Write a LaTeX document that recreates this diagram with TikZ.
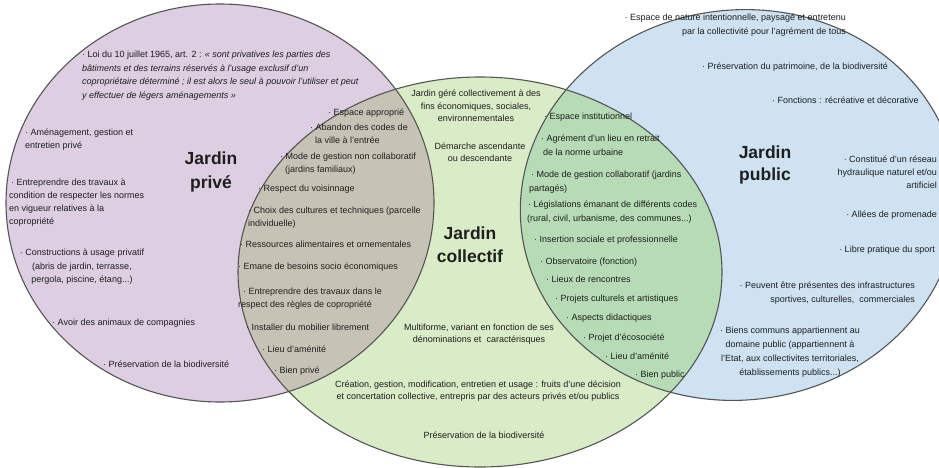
\documentclass[tikz,border=0pt]{standalone}
\usepackage{fontspec}
\setmainfont{Liberation Sans}
\newcommand{\lnstrut}{\rule{0pt}{7pt}}
\definecolor{cPr}{RGB}{221,206,226}
\definecolor{cCo}{RGB}{217,235,199}
\definecolor{cPu}{RGB}{207,226,242}
\definecolor{cGr}{RGB}{198,195,182}
\definecolor{cGB}{RGB}{183,219,183}
\definecolor{cLine}{RGB}{85,85,85}
\definecolor{cTxt}{RGB}{30,30,30}
\begin{document}
\begin{tikzpicture}[x=1pt,y=-1pt,
  txt/.style={inner sep=0pt, font=\fontsize{9}{12.5}\selectfont, text=cTxt},
  tl/.style={txt, anchor=north west, align=left},
  tc/.style={txt, anchor=north, align=center},
  tr/.style={txt, anchor=north east, align=right},
  ttl/.style={inner sep=0pt, anchor=base, font=\fontsize{17.5}{21}\selectfont\bfseries, text=cTxt},
  outl/.style={draw=cLine, line width=1.1pt},
  rPu/.style={rotate around={7:(739,205)}}]
\useasboundingbox (0,0) rectangle (939,468);
\fill[white] (0,0) rectangle (939,468);
% fills
\fill[cPr] (220,203) ellipse [x radius=214, y radius=199];
\fill[cCo] (480,272) ellipse [x radius=242, y radius=195];
\fill[cPu,rPu] (739,205) ellipse [x radius=219, y radius=195];
\begin{scope}
  \clip (480,272) ellipse [x radius=242, y radius=195];
  \fill[cGr] (220,203) ellipse [x radius=214, y radius=199];
  \fill[cGB,rPu] (739,205) ellipse [x radius=219, y radius=195];
\end{scope}
% outlines
\draw[outl] (220,203) ellipse [x radius=214, y radius=199];
\draw[outl] (480,272) ellipse [x radius=242, y radius=195];
\draw[outl,rPu] (739,205) ellipse [x radius=219, y radius=195];

% ---------- Jardin prive ----------
\node[tl] (p1) at (82,50.5) {\lnstrut· Loi du 10 juillet 1965, art. 2 : \textit{« sont privatives les parties des}\\[1pt]
  \textit{bâtiments et des terrains réservés à l'usage exclusif d'un}\\[1pt]
  \textit{copropriétaire déterminé ; il est alors le seul à pouvoir l'utiliser et peut}\\[1pt]
  \textit{y effectuer de légers aménagements »}};
\node[tl] (p2) at (25,128.5) {\lnstrut· Aménagement, gestion et\\[0.5pt]entretien privé};
\node[tl] (p3) at (9,178.5) {\lnstrut\hspace*{2pt}· Entreprendre des travaux à\\[0.5pt]condition de respecter les normes\\[0.5pt]en vigueur relatives à la\\[0.5pt]copropriété};
\node[tc] (p4) at (82,248.5) {\lnstrut· Constructions à usage privatif\\[1pt](abris de jardin, terrasse,\\[1pt]pergola, piscine, étang...)};
\node[tl] (p5) at (52,318.5) {\lnstrut· Avoir des animaux de compagnies};
\node[tl] (p6) at (103,360.5) {\lnstrut· Préservation de la biodiversité};
\node[ttl] (tp1) at (211,164) {Jardin};
\node[ttl] (tp2) at (211,188) {privé};

% ---------- intersection prive / collectif ----------
\node[tl] (g1) at (328,108.5) {\lnstrut· Espace approprié};
\node[tl] (g2) at (310,123.5) {\lnstrut· Abandon des codes de\\[0.5pt]\hspace*{5pt}la ville à l'entrée};
\node[tl] (g3) at (280,152.5) {\lnstrut· Mode de gestion non collaboratif\\[0.5pt]\hspace*{5pt}(jardins familiaux)};
\node[tl] (g4) at (258,184.5) {\lnstrut· Respect du voisinnage};
\node[tl] (g5) at (248,206.5) {\lnstrut· Choix des cultures et techniques (parcelle\\[0.5pt]individuelle)};
\node[tl] (g6) at (240,240.5) {\lnstrut· Ressources alimentaires et ornementales};
\node[tl] (g7) at (238,262.5) {\lnstrut· Emane de besoins socio économiques};
\node[tl] (g8) at (238,287.5) {\lnstrut\hspace*{5pt}· Entreprendre des travaux dans le\\[0.5pt]respect des règles de copropriété};
\node[tl] (g9) at (246,323.5) {\lnstrut· Installer du mobilier librement};
\node[tl] (g10) at (262,345.5) {\lnstrut· Lieu d'aménité};
\node[tl] (g11) at (274,366.5) {\lnstrut· Bien privé};

% ---------- Jardin collectif ----------
\node[tc] (c1) at (476,89.5) {\lnstrut Jardin géré collectivement à des\\fins économiques, sociales,\\environnementales};
\node[tc] (c2) at (480,142.5) {\lnstrut Démarche ascendante\\[-1pt]ou descendante};
\node[ttl] (tc1) at (470,239) {Jardin};
\node[ttl] (tc2) at (470,262) {collectif};
\node[tc] (c4) at (479,323.5) {\lnstrut Multiforme, variant en fonction de ses\\[-0.5pt]dénominations et \ caractérisques};
\node[tc] (c5) at (478,380.5) {\lnstrut Création, gestion, modification, entretien et usage : fruits d'une décision\\[-0.5pt]et concertation collective, entrepris par des acteurs privés et/ou publics};
\node[tc] (c6) at (484,431.5) {\lnstrut Préservation de la biodiversité};

% ---------- intersection collectif / public ----------
\node[tl] (b1) at (544,112.5) {\lnstrut· Espace institutionnel};
\node[tl] (b2) at (541,134.5) {\lnstrut· Agrément d'un lieu en retrait\\[1pt]\hspace*{2pt}de la norme urbaine};
\node[tl] (b3) at (529,170.5) {\lnstrut\hspace*{2pt}· Mode de gestion collaboratif (jardins\\[1pt]partagés)};
\node[tl] (b4) at (527,200.5) {\lnstrut\hspace*{1pt}· Législations émanant de différents codes\\[1pt](rural, civil, urbanisme, des communes...)};
\node[tl] (b5) at (534,235.5) {\lnstrut· Insertion sociale et professionnelle};
\node[tl] (b6) at (540,257.5) {\lnstrut· Observatoire (fonction)};
\node[tl] (b7) at (546,275.5) {\lnstrut· Lieux de rencontres};
\node[tl] (b8) at (555,294.5) {\lnstrut· Projets culturels et artistiques};
\node[tl] (b9) at (566,313.5) {\lnstrut· Aspects didactiques};
\node[tl] (b10) at (583,333.5) {\lnstrut· Projet d'écosociété};
\node[tl] (b11) at (605,352.5) {\lnstrut· Lieu d'aménité};
\node[tl] (b12) at (635,370.5) {\lnstrut· Bien public};

% ---------- Jardin public ----------
\node[tr] (u1) at (846,13.5) {\lnstrut· Espace de nature intentionnelle, paysagé et entretenu\\[1pt]par la collectivité pour l'agrément de tous};
\node[tl] (u2) at (702,62.5) {\lnstrut· Préservation du patrimoine, de la biodiversité};
\node[tl] (u3) at (772,96.5) {\lnstrut· Fonctions : récréative et décorative};
\node[ttl] (tu1) at (765,158) {Jardin};
\node[ttl] (tu2) at (765,180) {public};
\node[tr] (u5) at (937,155.5) {\lnstrut· Constitué d'un réseau\\[0.5pt]hydraulique naturel et/ou\\[0.5pt]artificiel};
\node[tr] (u6) at (937,210.5) {\lnstrut· Allées de promenade};
\node[tr] (u7) at (935,245.5) {\lnstrut· Libre pratique du sport};
\node[tr] (u8) at (915,281.5) {\lnstrut· Peuvent être présentes des infrastructures\\[1pt]sportives, culturelles, \ commerciales};
\node[tc] (u9) at (790,326.5) {\lnstrut· Biens communs appartiennent au\\[1.5pt]domaine public (appartiennent à\\[1.5pt]l'Etat, aux collectivites territoriales,\\[1.5pt]établissements publics...)};
\end{tikzpicture}
\end{document}
